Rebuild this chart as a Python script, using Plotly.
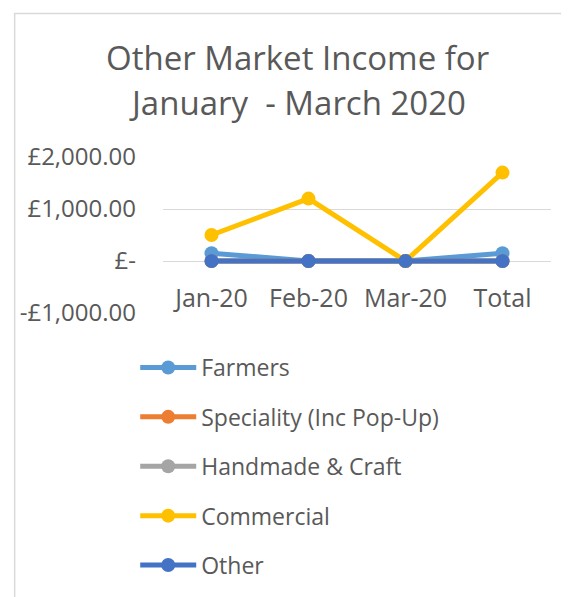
import plotly.graph_objects as go

categories = ["Jan-20", "Feb-20", "Mar-20", "Total"]
farmers = [150, 0, 0, 150]
speciality = [0, 0, 0, 0]
handmade = [0, 0, 0, 0]
commercial = [500, 1200, 0, 1700]
other = [0, 0, 0, 0]
series_names = ["Farmers", "Speciality (Inc Pop-Up)", "Handmade & Craft", "Commercial", "Other"]
series_values = [farmers, speciality, handmade, commercial, other]
colors = ["#5B9BD5", "#ED7D31", "#A5A5A5", "#FFC000", "#4472C4"]
ytick_vals = [-1000, 0, 1000, 2000]
ytick_text = ["-£1,000.00", "£-", "£1,000.00", "£2,000.00"]
title_lines = ["Other Market Income for", "January  - March 2020"]

FONT = "Open Sans"
TXT = "#595959"

W, H = 569, 597
OFF = 8  # page body margin
# target plot area on screen: x 160..551, y 157..313
L = 160 - OFF
T = 157 - OFF
R = W - (551 - OFF)
B = H - (313 - OFF)
ph = H - T - B
pw = W - L - R


def px_x(px):
    return (px - OFF - L) / pw


def px_y(py):
    return (H - B - (py - OFF)) / ph


fig = go.Figure()
for name, vals, col in zip(series_names, series_values, colors):
    fig.add_trace(go.Scatter(
        x=categories, y=vals, name=name, mode="lines+markers",
        line=dict(color=col, width=5),
        marker=dict(color=col, size=14),
        legendgroup=name,
        hoverinfo="skip",
    ))

zero_frac = (0 - ytick_vals[0]) / (ytick_vals[-1] - ytick_vals[0])

fig.update_layout(
    width=W, height=H,
    margin=dict(l=L, r=R, t=T, b=B),
    paper_bgcolor="white", plot_bgcolor="white",
    font=dict(family=FONT, color=TXT, size=20),
    showlegend=True,
    legend=dict(
        x=px_x(132), y=px_y(346), xanchor="left", yanchor="top",
        font=dict(family=FONT, color=TXT, size=23),
        traceorder="grouped", tracegroupgap=16.5,
        itemwidth=56, bgcolor="rgba(0,0,0,0)", borderwidth=0,
    ),
    xaxis=dict(
        type="category", range=[-0.5, 3.5],
        anchor="free", position=zero_frac,
        showgrid=False, zeroline=False, showline=False,
        ticks="", ticklabelstandoff=20,
        tickfont=dict(family=FONT, color=TXT, size=25),
    ),
    yaxis=dict(
        range=[ytick_vals[0], ytick_vals[-1]],
        tickvals=ytick_vals, ticktext=ytick_text,
        showgrid=True, gridcolor="#D9D9D9", gridwidth=1,
        zeroline=True, zerolinecolor="#D9D9D9", zerolinewidth=1,
        showline=False, ticks="", ticklabelstandoff=26,
        tickfont=dict(family=FONT, color=TXT, size=24),
    ),
    shapes=[dict(
        type="rect", xref="paper", yref="paper",
        x0=px_x(10.5), x1=px_x(800), y0=px_y(900), y1=px_y(13.5),
        line=dict(color="#D9D9D9", width=1.5), fillcolor="rgba(0,0,0,0)",
        layer="below",
    )],
    annotations=[
        dict(text=title_lines[0], xref="paper", yref="paper",
             x=px_x(296), y=px_y(57), xanchor="center", yanchor="middle",
             showarrow=False, font=dict(family=FONT, color=TXT, size=33)),
        dict(text=title_lines[1], xref="paper", yref="paper",
             x=px_x(296), y=px_y(103), xanchor="center", yanchor="middle",
             showarrow=False, font=dict(family=FONT, color=TXT, size=33)),
    ],
)

fig.write_html("out.html")
